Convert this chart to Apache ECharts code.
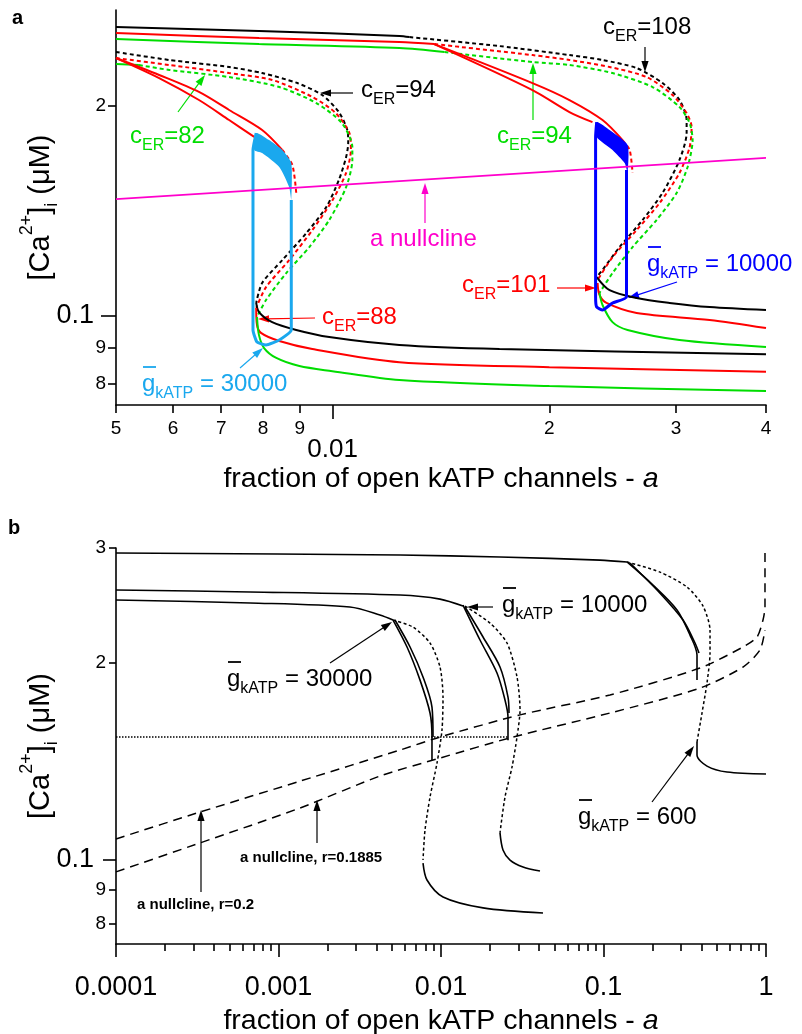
<!DOCTYPE html>
<html>
<head>
<meta charset="utf-8">
<script src="https://cdn.jsdelivr.net/npm/echarts@6/dist/echarts.min.js"></script>
<style>html,body{margin:0;padding:0;background:#fff}#main{width:802px;height:1034px}</style>
</head>
<body>
<div id="main"></div>
<script>
// ---------- panel a : axis ranges & ticks ----------
var aXRange = [0.005, 0.04];
var aYRange = [0.0746, 0.274];
var aXMinor = [0.005, 0.006, 0.007, 0.008, 0.009, 0.02, 0.03, 0.04];
var aXMinorLbl = ['5', '6', '7', '8', '9', '2', '3', '4'];
var aXMajor = [0.01];
var aXMajorLbl = ['0.01'];
var aYMinor = [0.08, 0.09, 0.2];
var aYMinorLbl = ['8', '9', '2'];
var aYMajor = [0.1];
var aYMajorLbl = ['0.1'];

// right set upper solid branches (cER = 108 / 101 / 94)
var aTop108 = [[0.005,0.259],[0.0079,0.2557],[0.01238,0.2515],[0.01278,0.2506]];
var aTop101 = [[0.005,0.254],[0.0079,0.2498],[0.01238,0.2466],[0.01384,0.2449]];
var aTop94 = [[0.005,0.249],[0.0079,0.2449],[0.01238,0.2417],[0.0143,0.2386]];
// right set unstable branches
var aR108Dot = [[0.01278,0.2506],[0.01705,0.2433],[0.02133,0.2362],[0.02371,0.2324],[0.02644,0.2263],[0.02873,0.2154],[0.03033,0.2037],[0.03103,0.1907],[0.03103,0.1827],[0.03033,0.1672],[0.02873,0.15],[0.02695,0.1372],[0.02504,0.1255],[0.02371,0.1164],[0.02327,0.1137]];
var aR101Dot = [[0.01384,0.2449],[0.01895,0.2362],[0.02133,0.2324],[0.02425,0.2271],[0.0273,0.2197],[0.02966,0.2071],[0.03103,0.1951],[0.03153,0.1864],[0.03133,0.1744],[0.03033,0.1602],[0.02846,0.1451],[0.02644,0.1327],[0.02448,0.1214],[0.02334,0.1126]];
var aR94Dot = [[0.0143,0.2386],[0.01895,0.2308],[0.02133,0.2286],[0.02448,0.2226],[0.02783,0.2126],[0.03033,0.1991],[0.03133,0.1888],[0.03163,0.1785],[0.03113,0.1634],[0.03005,0.15],[0.02818,0.1372],[0.0261,0.1255],[0.02448,0.1152],[0.02348,0.1079]];
// right set lower solid branches
var aR108Low = [[0.02327,0.1137],[0.02425,0.1089],[0.02644,0.1061],[0.02938,0.1044],[0.0334,0.103],[0.04,0.102]];
var aR101Low = [[0.02334,0.1115],[0.02348,0.1072],[0.02401,0.1044],[0.02644,0.101],[0.0334,0.0987],[0.04,0.0961]];
var aR94Low = [[0.02348,0.1079],[0.02371,0.1037],[0.02448,0.098],[0.02569,0.0955],[0.03033,0.0924],[0.04,0.0903]];
// right set periodic branch (cER = 101)
var aR101Hi = [[0.01384,0.2449],[0.01895,0.2154],[0.02133,0.2037],[0.02371,0.1907],[0.02528,0.1785]];
var aR101Lo = [[0.01384,0.2449],[0.01895,0.2105],[0.02133,0.1958],[0.02296,0.1894]];
var aR101Upo = [[0.02528,0.1785],[0.02586,0.1728],[0.0261,0.1602]];

// left set (cER = 94 / 88 / 82)
var aL94Dot = [[0.005,0.2386],[0.00593,0.2324],[0.00718,0.2271],[0.00798,0.2226],[0.00893,0.2154],[0.00967,0.2071],[0.0102,0.1958],[0.01048,0.1845],[0.01051,0.1768],[0.01044,0.1688],[0.0102,0.1565],[0.0098,0.1432],[0.00919,0.1314],[0.00851,0.1202],[0.00798,0.1115],[0.00783,0.1044]];
var aL94Low = [[0.00783,0.1044],[0.0079,0.1013],[0.00824,0.098],[0.0089,0.0955],[0.00989,0.0933],[0.01238,0.0909],[0.01705,0.0897],[0.04,0.0882]];
var aL88Dot = [[0.005,0.2339],[0.00593,0.2286],[0.00718,0.2226],[0.00824,0.2176],[0.00937,0.2058],[0.0101,0.1951],[0.01055,0.1827],[0.0106,0.1728],[0.01044,0.1602],[0.01,0.1466],[0.00937,0.1327],[0.0087,0.1202],[0.00808,0.11],[0.00783,0.1027]];
var aL88Low = [[0.00783,0.1027],[0.00785,0.0971],[0.00795,0.0946],[0.00843,0.0921],[0.00937,0.0897],[0.01238,0.0859],[0.02,0.0845],[0.04,0.0832]];
var aL82Top = [[0.005,0.2294],[0.00538,0.2286]];
var aL82Dot = [[0.00538,0.2286],[0.00593,0.2249],[0.00718,0.2197],[0.00843,0.2126],[0.00949,0.2017],[0.0103,0.1888],[0.01065,0.1744],[0.01065,0.1672],[0.01044,0.1529],[0.00989,0.1372],[0.00928,0.1255],[0.00862,0.1152],[0.00808,0.1054],[0.00785,0.0997]];
var aL82Low = [[0.00785,0.0997],[0.0079,0.0939],[0.00803,0.09],[0.00835,0.0871],[0.00899,0.0848],[0.00999,0.0834],[0.01238,0.081],[0.02,0.0794],[0.04,0.0781]];
var aL88Hi = [[0.005,0.2339],[0.00574,0.2212],[0.00652,0.2092],[0.00718,0.1971],[0.00798,0.1845],[0.00851,0.1728]];
var aL88Lo = [[0.005,0.2339],[0.00574,0.219],[0.00652,0.2037],[0.00718,0.1907],[0.00778,0.1804]];
var aL88Upo = [[0.00851,0.1728],[0.00879,0.1644],[0.0089,0.15]];

var aNull = [[0.005,0.147],[0.04,0.1683]];

// bursting trajectories
var aG30kPath = [[0.00876,0.1466],[0.00876,0.0955],[0.00843,0.0924],[0.00808,0.0909],[0.00785,0.0918],[0.00775,0.0955],[0.00775,0.1728],[0.00783,0.1827]];
var aG30kBand = [[0.00783,0.1827],[0.00816,0.1785],[0.00851,0.1728],[0.00876,0.1655],[0.00876,0.1466],[0.0087,0.1529],[0.00843,0.1634],[0.00798,0.1711],[0.00778,0.1728]];
var aG10kPath = [[0.0256,0.1618],[0.0256,0.1065],[0.02448,0.1044],[0.02371,0.102],[0.02327,0.103],[0.02319,0.1065],[0.02319,0.1804],[0.02327,0.1894]];
var aG10kBand = [[0.02327,0.1894],[0.02425,0.1845],[0.02569,0.1756],[0.02569,0.1606],[0.02545,0.1655],[0.02448,0.1728],[0.02327,0.1804]];

// ---------- panel b ----------
var bXRange = [0.0001, 1];
var bYRange = [0.0744, 0.3];
var bXMajor = [0.0001, 0.001, 0.01, 0.1, 1];
var bXMajorLbl = ['0.0001', '0.001', '0.01', '0.1', '1'];
var bXMinor = [0.0002,0.0003,0.0004,0.0005,0.0006,0.0007,0.0008,0.0009,
  0.002,0.003,0.004,0.005,0.006,0.007,0.008,0.009,
  0.02,0.03,0.04,0.05,0.06,0.07,0.08,0.09,
  0.2,0.3,0.4,0.5,0.6,0.7,0.8,0.9];
var bYMinor = [0.08, 0.09, 0.2, 0.3];
var bYMinorLbl = ['8', '9', '2', '3'];
var bYMajor = [0.1];
var bYMajorLbl = ['0.1'];

var bG600Up = [[0.0001,0.2947],[0.0056,0.2927],[0.02307,0.2906],[0.0951,0.2875],[0.1395,0.2856]];
var bG600Hi = [[0.1395,0.2856],[0.2017,0.2633],[0.2834,0.2412],[0.3407,0.2208],[0.3762,0.2058],[0.3762,0.1884]];
var bG600Lo = [[0.1456,0.2846],[0.2227,0.2559],[0.3085,0.2328],[0.3657,0.2147],[0.387,0.2073]];
var bG600Dot = [[0.1395,0.2856],[0.2227,0.2756],[0.3265,0.2615],[0.4097,0.2445],[0.4524,0.2247],[0.4524,0.2073],[0.4334,0.1865],[0.4038,0.1678],[0.3762,0.1515]];
var bG600Low = [[0.3762,0.1515],[0.3762,0.1447],[0.4334,0.1392],[0.5754,0.1363],[1.0,0.1354]];

var bG10kUp = [[0.0001,0.2587],[0.000668,0.257],[0.0056,0.2542],[0.00986,0.2506],[0.01366,0.2445]];
var bG10kHi = [[0.01366,0.2454],[0.01738,0.217],[0.02211,0.1932],[0.02476,0.1757],[0.02584,0.1655],[0.02584,0.1525]];
var bG10kLo = [[0.01405,0.2437],[0.01814,0.2193],[0.02307,0.1973],[0.02584,0.1775],[0.02621,0.1678]];
var bG10kDot = [[0.01405,0.2445],[0.02003,0.2303],[0.02548,0.2147],[0.02936,0.1905],[0.03064,0.1695],[0.02936,0.1542],[0.02735,0.1387],[0.02476,0.1248],[0.02307,0.11]];
var bG10kLow = [[0.02307,0.11],[0.02407,0.1036],[0.02659,0.1],[0.03197,0.0976],[0.04066,0.0962]];

var bG30kUp = [[0.0001,0.2498],[0.000668,0.2472],[0.00275,0.2437],[0.00421,0.237],[0.00507,0.2328]];
var bG30kHi = [[0.00507,0.2328],[0.00618,0.2117],[0.00743,0.1884],[0.00856,0.1678],[0.0088,0.1542],[0.0088,0.1422]];
var bG30kLo = [[0.00521,0.2328],[0.00645,0.2117],[0.00775,0.1905],[0.0088,0.1713],[0.00893,0.1542]];
var bG30kDot = [[0.00507,0.2328],[0.00672,0.2271],[0.00856,0.2147],[0.00986,0.1973],[0.01029,0.1775],[0.01014,0.158],[0.00945,0.1407],[0.00856,0.1248],[0.00797,0.1111],[0.00775,0.1]];
var bG30kLow = [[0.00775,0.0989],[0.0082,0.0932],[0.01029,0.0878],[0.01814,0.0845],[0.04243,0.083]];

var bNull02 = [[0.0001,0.1077],[0.000329,0.1184],[0.001356,0.132],[0.0056,0.1473],[0.00986,0.1542],[0.03064,0.1667],[0.1096,0.1788],[0.3925,0.1966],[0.722,0.2117],[0.8804,0.2193],[0.9583,0.2328],[0.9858,0.2437],[0.9858,0.2979]];
var bNull01885 = [[0.0001,0.0959],[0.000329,0.1062],[0.001356,0.1201],[0.00421,0.1344],[0.00986,0.1432],[0.02774,0.1542],[0.1096,0.1678],[0.3925,0.1832],[0.722,0.1973],[0.9183,0.2095],[0.9858,0.2247]];
var bLevel = [[0.0001,0.1542],[0.02584,0.1542]];

// ---------- drawing ----------
var FONT = "'Liberation Sans', Arial, Helvetica, sans-serif";
var RED = '#ff0000', GRN = '#00dd00', MAG = '#ff00cc', LBLUE = '#1aa8ee', BLUE = '#0000ff';
var lg = Math.log10;

function P(pts) { return pts.map(function (p) { return [lg(p[0]), lg(p[1])]; }); }
function lblFor(vals, lbls) {
  return function (v) {
    for (var i = 0; i < vals.length; i++) if (Math.abs(lg(vals[i]) - v) < 1e-6) return lbls[i];
    return '';
  };
}

function ln(panel, pts, color, dash, w, smooth, z) {
  return {
    type: 'line', xAxisIndex: panel * 2, yAxisIndex: panel * 2, data: P(pts),
    showSymbol: false, symbol: 'none', silent: true, animation: false, z: z || 2,
    smooth: smooth || false,
    lineStyle: { color: color, width: w || 2, type: dash || 'solid', cap: 'butt' }
  };
}
function band(panel, pts, color) {
  var d = P(pts);
  return {
    type: 'custom', coordinateSystem: 'cartesian2d', xAxisIndex: panel * 2, yAxisIndex: panel * 2,
    data: [d[0]], silent: true, animation: false, z: 4,
    renderItem: function (params, api) {
      return { type: 'polygon', shape: { points: d.map(function (p) { return api.coord(p); }), smooth: 0.2 }, style: { fill: color } };
    }
  };
}

function xAxisCfg(grid, range, ticks, lbls, len, fs, margin, showLine, name, gap) {
  var c = {
    gridIndex: grid, type: 'value', position: 'bottom', min: lg(range[0]), max: lg(range[1]),
    splitLine: { show: false },
    axisLine: { show: showLine, onZero: false, lineStyle: { color: '#000', width: 1.6 } },
    axisTick: { customValues: ticks.map(lg), length: len, lineStyle: { color: '#000', width: 1.6 } },
    axisLabel: { show: !!lbls, customValues: ticks.map(lg), formatter: lbls ? lblFor(ticks, lbls) : '',
      fontSize: fs, color: '#000', margin: margin, fontFamily: FONT, hideOverlap: false }
  };
  if (name) {
    c.name = 'fraction of open kATP channels - {i|a}';
    c.nameLocation = 'middle';
    c.nameGap = gap;
    c.nameTextStyle = { fontSize: 28.5, color: '#000', fontFamily: FONT,
      rich: { i: { fontSize: 28.5, fontStyle: 'italic', fontFamily: FONT, color: '#000' } } };
  }
  return c;
}
function yAxisCfg(grid, range, ticks, lbls, len, fs, margin, showLine, name) {
  var c = {
    gridIndex: grid, type: 'value', position: 'left', min: lg(range[0]), max: lg(range[1]),
    splitLine: { show: false },
    axisLine: { show: showLine, onZero: false, lineStyle: { color: '#000', width: 1.6 } },
    axisTick: { customValues: ticks.map(lg), length: len, lineStyle: { color: '#000', width: 1.6 } },
    axisLabel: { customValues: ticks.map(lg), formatter: lblFor(ticks, lbls),
      fontSize: fs, color: '#000', margin: margin, fontFamily: FONT, hideOverlap: false }
  };
  if (name) {
    c.name = '{n|[Ca}{sup|2+}{n|]}{sub|i}{n| (\u03bcM)}';
    c.nameLocation = 'middle';
    c.nameGap = 69;
    c.nameTextStyle = { color: '#000', fontFamily: FONT,
      rich: {
        n: { fontSize: 29, lineHeight: 29, padding: [8, 0, 0, 0], verticalAlign: 'top', fontFamily: FONT, color: '#000' },
        sup: { fontSize: 18, lineHeight: 18, verticalAlign: 'top', fontFamily: FONT, color: '#000' },
        sub: { fontSize: 18, lineHeight: 18, padding: [25, 0, 0, 0], verticalAlign: 'top', fontFamily: FONT, color: '#000' }
      } };
  }
  return c;
}

// annotation helpers (pixel placed text & arrows)
function txt(x, base, pre, sb, post, color, bar) {
  var rich = {
    m: { fontSize: 24, lineHeight: 24, verticalAlign: 'top', fontFamily: FONT, fill: color },
    s: { fontSize: 16, lineHeight: 16, padding: [14, 0, 0, 0], verticalAlign: 'top', fontFamily: FONT, fill: color }
  };
  var t = '{m|' + pre + '}' + (sb ? '{s|' + sb + '}' : '') + (post ? '{m|' + post + '}' : '');
  var els = [{ type: 'text', x: x, y: base - 20, silent: true,
    style: { text: t, rich: rich, fill: color, align: 'left', verticalAlign: 'top' } }];
  if (bar) els.push({ type: 'line', silent: true, shape: { x1: x + 1, y1: base - 25, x2: x + 14, y2: base - 25 },
    style: { stroke: color, lineWidth: 1.8 } });
  return els;
}
function arrow(x1, y1, x2, y2, color, w) {
  var a = Math.atan2(y2 - y1, x2 - x1), c = Math.cos(a), s = Math.sin(a), L = 11, W = 3.6;
  return [
    { type: 'line', silent: true, shape: { x1: x1, y1: y1, x2: x2 - c * L * 0.7, y2: y2 - s * L * 0.7 },
      style: { stroke: color, lineWidth: w || 1.2 } },
    { type: 'polygon', silent: true,
      shape: { points: [[x2, y2], [x2 - c * L + s * W, y2 - s * L - c * W], [x2 - c * L - s * W, y2 - s * L + c * W]] },
      style: { fill: color } }
  ];
}

var DOT = [4, 3], BDOT = [3, 2.5], BDASH = [9, 6];
var S = 0.3, SD = 0.25;
var series = [
  // panel a
  ln(0, aTop108, '#000', 0, 2, S), ln(0, aTop101, RED, 0, 2, S), ln(0, aTop94, GRN, 0, 2, S),
  ln(0, aR108Dot, '#000', DOT, 2, SD), ln(0, aR101Dot, RED, DOT, 2, SD), ln(0, aR94Dot, GRN, DOT, 2, SD),
  ln(0, aR108Low, '#000', 0, 2, S), ln(0, aR101Low, RED, 0, 2, S), ln(0, aR94Low, GRN, 0, 2, S),
  ln(0, aR101Hi, RED, 0, 2, S), ln(0, aR101Lo, RED, 0, 2, S), ln(0, aR101Upo, RED, DOT, 2, SD),
  ln(0, aL94Dot, '#000', DOT, 2, SD), ln(0, aL88Dot, RED, DOT, 2, SD), ln(0, aL82Top, GRN), ln(0, aL82Dot, GRN, DOT, 2, SD),
  ln(0, aL94Low, '#000', 0, 2, S), ln(0, aL88Low, RED, 0, 2, S), ln(0, aL82Low, GRN, 0, 2, S),
  ln(0, aL88Hi, RED, 0, 2, S), ln(0, aL88Lo, RED, 0, 2, S), ln(0, aL88Upo, RED, DOT, 2, SD),
  band(0, aG30kBand, LBLUE), ln(0, aG30kPath, LBLUE, 0, 3, 0.15, 5),
  band(0, aG10kBand, BLUE), ln(0, aG10kPath, BLUE, 0, 3, 0.15, 5),
  ln(0, aNull, MAG, 0, 1.8, 0, 6),
  // panel b
  ln(1, bG600Up, '#000', 0, 1.6, S), ln(1, bG600Hi, '#000', 0, 1.6, S), ln(1, bG600Lo, '#000', 0, 1.6, S),
  ln(1, bG600Dot, '#000', BDOT, 1.5, SD), ln(1, bG600Low, '#000', 0, 1.6, S),
  ln(1, bG10kUp, '#000', 0, 1.6, S), ln(1, bG10kHi, '#000', 0, 1.6, S), ln(1, bG10kLo, '#000', 0, 1.6, S),
  ln(1, bG10kDot, '#000', BDOT, 1.5, SD), ln(1, bG10kLow, '#000', 0, 1.6, S),
  ln(1, bG30kUp, '#000', 0, 1.6, S), ln(1, bG30kHi, '#000', 0, 1.6, S), ln(1, bG30kLo, '#000', 0, 1.6, S),
  ln(1, bG30kDot, '#000', BDOT, 1.5, SD), ln(1, bG30kLow, '#000', 0, 1.6, S),
  ln(1, bNull02, '#000', BDASH, 1.5, SD), ln(1, bNull01885, '#000', BDASH, 1.5, SD),
  ln(1, bLevel, '#000', [1.5, 1.5], 1.3)
];

var gfx = [].concat(
  [{ type: 'text', x: 12, y: 8, silent: true, style: { text: 'a', font: 'bold 20px ' + FONT, fill: '#000' } },
   { type: 'text', x: 8, y: 518, silent: true, style: { text: 'b', font: 'bold 20px ' + FONT, fill: '#000' } }],
  txt(603, 35, 'c', 'ER', '=108', '#000'), arrow(645, 47, 645, 72, '#000'),
  txt(361, 98, 'c', 'ER', '=94', '#000'), arrow(353, 93, 320, 93, '#000'),
  txt(130, 144, 'c', 'ER', '=82', GRN), arrow(178, 112, 205, 75, GRN),
  txt(497, 144, 'c', 'ER', '=94', GRN), arrow(533, 120, 533, 63, GRN),
  txt(370, 247, 'a nullcline', '', '', MAG), arrow(425, 223, 425, 183, MAG),
  txt(462, 293, 'c', 'ER', '=101', RED), arrow(557, 288, 596, 288, RED),
  txt(322, 325, 'c', 'ER', '=88', RED), arrow(315, 318, 258, 319, RED),
  txt(142, 392, 'g', 'kATP', ' = 30000', LBLUE, true), arrow(240, 368, 263, 348, LBLUE),
  txt(647, 272, 'g', 'kATP', ' = 10000', BLUE, true), arrow(677, 282, 628, 298, BLUE),
  txt(227, 687, 'g', 'kATP', ' = 30000', '#000', true), arrow(330, 663, 392, 622, '#000'),
  txt(502, 613, 'g', 'kATP', ' = 10000', '#000', true), arrow(493, 607, 467, 607, '#000'),
  txt(578, 825, 'g', 'kATP', ' = 600', '#000', true), arrow(652, 802, 694, 746, '#000'),
  [{ type: 'text', x: 240, y: 850, silent: true, style: { text: 'a nullcline, r=0.1885', font: 'bold 15px ' + FONT, fill: '#000' } },
   { type: 'text', x: 137, y: 897, silent: true, style: { text: 'a nullcline, r=0.2', font: 'bold 15px ' + FONT, fill: '#000' } }],
  arrow(317, 843, 317, 800, '#000'), arrow(201, 892, 201, 810, '#000')
);

var chart = echarts.init(document.getElementById('main'), null, { renderer: 'canvas' });
chart.setOption({
  animation: false,
  backgroundColor: '#fff',
  grid: [
    { left: 116, top: 10, width: 650, height: 395, outerBoundsMode: 'none', containLabel: false },
    { left: 116, top: 548, width: 650, height: 396, outerBoundsMode: 'none', containLabel: false }
  ],
  xAxis: [
    xAxisCfg(0, aXRange, aXMinor, aXMinorLbl, 8, 19, 14, true, true, 60),
    xAxisCfg(0, aXRange, aXMajor, aXMajorLbl, 14, 26, 32, false, false),
    xAxisCfg(1, bXRange, bXMajor, bXMajorLbl, 13, 27, 30, true, true, 63),
    xAxisCfg(1, bXRange, bXMinor, null, 7, 12, 8, false, false)
  ],
  yAxis: [
    yAxisCfg(0, aYRange, aYMinor, aYMinorLbl, 8, 19, 10, true, true),
    yAxisCfg(0, aYRange, aYMajor, aYMajorLbl, 15, 27, 22, false, false),
    yAxisCfg(1, bYRange, bYMinor, bYMinorLbl, 7, 19, 10, true, true),
    yAxisCfg(1, bYRange, bYMajor, bYMajorLbl, 13, 27, 22, false, false)
  ],
  series: series,
  graphic: { elements: gfx }
});
</script>
</body>
</html>
